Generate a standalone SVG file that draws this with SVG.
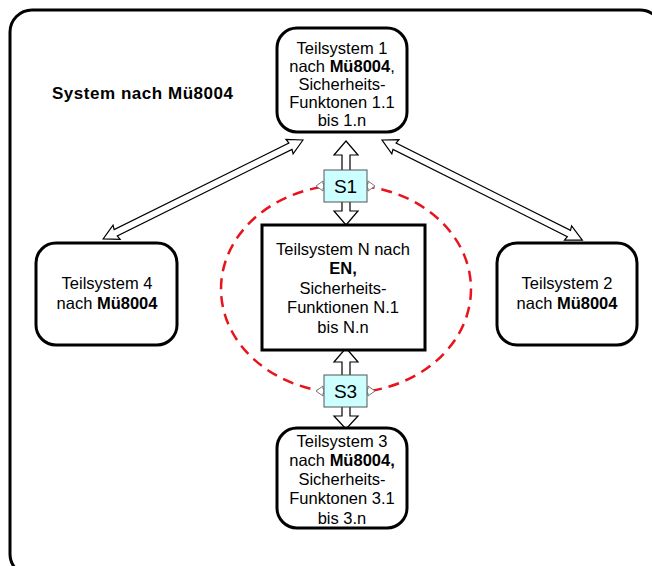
<svg xmlns="http://www.w3.org/2000/svg" width="652" height="566" viewBox="0 0 652 566">
<style>
text{font-family:"Liberation Sans",Arial,sans-serif;font-size:16.5px;fill:#000;text-anchor:middle}
.b{font-weight:bold}
.node{fill:#fff;stroke:#000;stroke-width:3}
.arr{fill:#fff;stroke:#000;stroke-width:1.2;stroke-linejoin:miter}
.sm{fill:#fff;stroke:#777;stroke-width:1}
.sbox{fill:#ccffff;stroke:#555;stroke-width:1}
</style>
<rect width="652" height="566" fill="#fff"/>
<rect x="10" y="10" width="652" height="566" rx="22" fill="none" stroke="#000" stroke-width="3"/>
<text x="52" y="99" class="b" style="text-anchor:start;font-size:17px" textLength="181" lengthAdjust="spacing">System nach Mü8004</text>

<ellipse cx="346" cy="289" rx="125" ry="104" fill="none" stroke="#e8131b" stroke-width="2.5" stroke-dasharray="11,7"/>

<g id="connectors">
  <g transform="translate(303,140) rotate(153.66)">
    <polygon class="arr" points="0,0 15,-8 14,-3.5 209,-3.5 208,-8 223,0 208,8 209,3.5 14,3.5 15,8"/>
  </g>
  <g transform="translate(382,140) rotate(26.57)">
    <polygon class="arr" points="0,0 15,-8 14,-3.5 209,-3.5 208,-8 224,0 208,8 209,3.5 14,3.5 15,8"/>
  </g>
  <polygon class="arr" points="346,141 358,155 350,155 350,211 358,211 346,225 334,211 342,211 342,155 334,155"/>
  <polygon class="arr" points="346,348 358,362 350,362 350,416 358,416 346,429 334,416 342,416 342,362 334,362"/>
  <polygon class="sm" points="316,186 323,181 323,184 324,184 324,188 323,188 323,191"/>
  <polygon class="sm" points="375,186 368,181 368,184 367,184 367,188 368,188 368,191"/>
  <polygon class="sm" points="316,391 323,386 323,389 324,389 324,393 323,393 323,396"/>
  <polygon class="sm" points="375,391 368,386 368,389 367,389 367,393 368,393 368,396"/>
</g>

<g id="s1">
  <rect class="sbox" x="324" y="170" width="43" height="32"/>
  <text x="345.5" y="193" style="font-size:19px">S1</text>
</g>
<g id="s3">
  <rect class="sbox" x="324" y="375" width="43" height="32"/>
  <text x="345.5" y="398" style="font-size:19px">S3</text>
</g>

<g id="node1">
  <rect class="node" x="277" y="28" width="130" height="104" rx="20"/>
  <text x="342" y="54">Teilsystem 1</text>
  <text x="342" y="72">nach <tspan class="b">Mü8004</tspan>,</text>
  <text x="342" y="90">Sicherheits-</text>
  <text x="342" y="108">Funktonen 1.1</text>
  <text x="342" y="126">bis 1.n</text>
</g>

<g id="node4">
  <rect class="node" x="36" y="243" width="141" height="102" rx="20"/>
  <text x="107" y="289">Teilsystem 4</text>
  <text x="107" y="309">nach <tspan class="b">Mü8004</tspan></text>
</g>

<g id="node2">
  <rect class="node" x="497" y="243" width="140" height="102" rx="20"/>
  <text x="567" y="289">Teilsystem 2</text>
  <text x="567" y="309">nach <tspan class="b">Mü8004</tspan></text>
</g>

<g id="nodeN">
  <rect class="node" x="262" y="225" width="163" height="125"/>
  <text x="343" y="255">Teilsystem N nach</text>
  <text x="343" y="274" class="b">EN,</text>
  <text x="343" y="294">Sicherheits-</text>
  <text x="343" y="313">Funktionen N.1</text>
  <text x="343" y="333">bis N.n</text>
</g>

<g id="node3">
  <rect class="node" x="277" y="428" width="130" height="100" rx="20"/>
  <text x="342" y="447">Teilsystem 3</text>
  <text x="342" y="466">nach <tspan class="b">Mü8004,</tspan></text>
  <text x="342" y="485">Sicherheits-</text>
  <text x="342" y="504">Funktonen 3.1</text>
  <text x="342" y="524">bis 3.n</text>
</g>
</svg>
